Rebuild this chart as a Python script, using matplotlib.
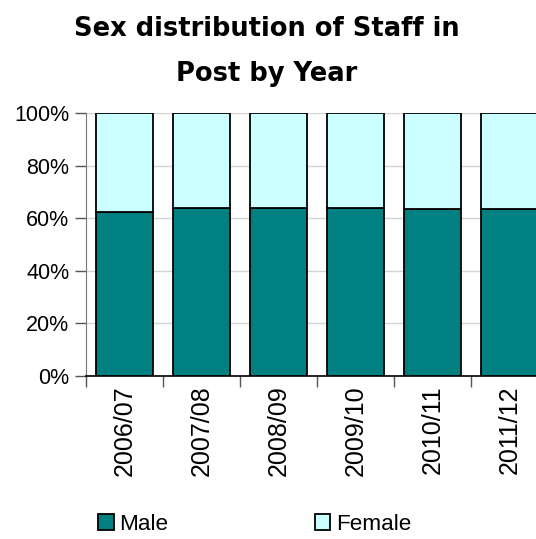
import matplotlib.pyplot as plt
import numpy as np

years = ['2006/07', '2007/08', '2008/09', '2009/10', '2010/11', '2011/12']
male_pct = [62.5, 63.8, 63.8, 63.8, 63.7, 63.4]
female_pct = [100 - m for m in male_pct]

plt.rcParams['font.family'] = ['Liberation Sans', 'DejaVu Sans']

fig = plt.figure(figsize=(5.36, 5.39), dpi=100)
# plot area runs a little past the right edge of the figure
ax = fig.add_axes([86 / 536, 163.3 / 539, 462 / 536, 262.4 / 539])

x = np.arange(len(years))
ax.bar(x, male_pct, width=0.75, color='#008080', edgecolor='black', linewidth=1.3,
       label='Male', zorder=3)
ax.bar(x, female_pct, width=0.75, bottom=male_pct, color='#CCFFFF', edgecolor='black',
       linewidth=1.3, label='Female', zorder=3)

ax.set_xlim(-0.5, len(years) - 0.5)
ax.set_ylim(0, 100)
ax.set_yticks(range(0, 101, 20))
ax.set_yticklabels([f'{v}%' for v in range(0, 101, 20)], fontsize=15.5)
ax.yaxis.grid(True, color='#d4d4d4', linewidth=1, zorder=0)

# labels under each bar, tick marks between categories
ax.set_xticks(x)
ax.set_xticklabels(years, rotation=90, fontsize=18)
ax.set_xticks(np.arange(-0.5, len(years)), minor=True)
ax.tick_params(axis='x', which='major', length=0, pad=7)
ax.tick_params(axis='x', which='minor', length=8, width=1, color='#555555')
ax.tick_params(axis='y', length=8, width=1, color='#555555', pad=4)

for side in ['top', 'right']:
    ax.spines[side].set_visible(False)
ax.spines['left'].set_color('#777777')
ax.spines['bottom'].set_color('black')
ax.spines['bottom'].set_linewidth(1.2)

fig.text(0.497, 0.904, 'Sex distribution of Staff in\nPost by Year', ha='center', va='center',
         fontsize=18.5, fontweight='bold', family=['DejaVu Sans'], linespacing=1.95)

fig.legend(loc='center', bbox_to_anchor=(0.475, 0.027), ncol=2, frameon=False,
           fontsize=16.2, handlelength=0.7, handleheight=0.7, handletextpad=0.25,
           columnspacing=6.5, borderpad=0.2)

plt.savefig('out.png', dpi=100)
